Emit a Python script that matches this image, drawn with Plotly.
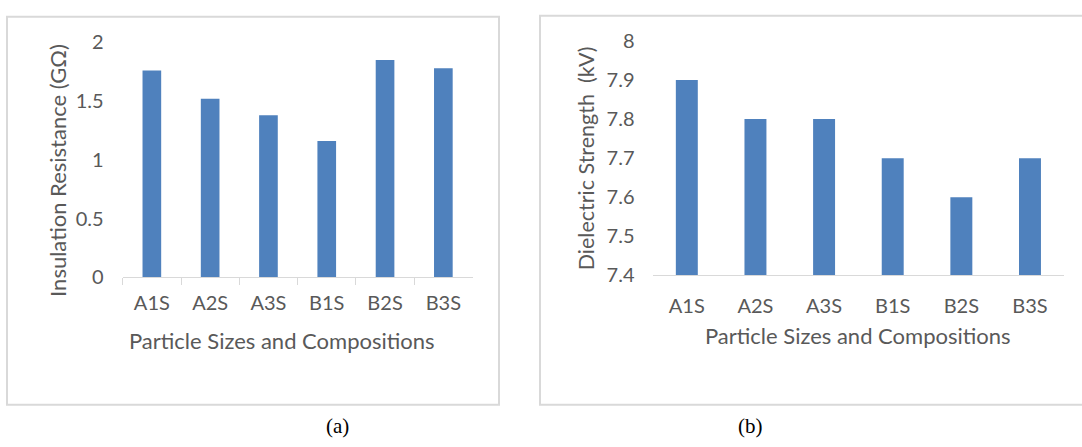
import plotly.graph_objects as go

# ---- data ----
categories = ["A1S", "A2S", "A3S", "B1S", "B2S", "B3S"]
insulation_resistance = [1.76, 1.52, 1.38, 1.16, 1.85, 1.78]   # GΩ
dielectric_strength = [7.9, 7.8, 7.8, 7.7, 7.6, 7.7]            # kV
left_ticks = [0, 0.5, 1, 1.5, 2]
left_ticktext = ["0", "0.5", "1", "1.5", "2"]
right_ticks = [7.4, 7.5, 7.6, 7.7, 7.8, 7.9, 8.0]
right_ticktext = ["7.4", "7.5", "7.6", "7.7", "7.8", "7.9", "8"]

W, H = 1082, 447
BAR = "#4f81bd"
GRAY = "#595959"
LINE = "#d9d9d9"
FONT = "Lato"

def px(x):
    return x / W

def py(y):
    return (H - y) / H

fig = go.Figure()
fig.add_trace(go.Bar(x=categories, y=insulation_resistance, marker_color=BAR,
                     marker_line_width=0, xaxis="x", yaxis="y", showlegend=False))
fig.add_trace(go.Bar(x=categories, y=dielectric_strength, marker_color=BAR,
                     marker_line_width=0, xaxis="x2", yaxis="y2", showlegend=False))

tickfont = dict(family=FONT, size=20, color=GRAY)
titlefont = dict(family=FONT, size=22, color=GRAY)

fig.update_layout(
    width=W, height=H,
    margin=dict(l=0, r=0, t=0, b=0),
    paper_bgcolor="white", plot_bgcolor="white",
    bargap=0.68,
    xaxis=dict(domain=[px(122.7), px(472.5)], anchor="y", type="category",
               showline=True, linecolor=LINE, linewidth=1,
               ticks="outside", tickson="boundaries", ticklen=7, tickcolor=LINE,
               tickfont=tickfont, showgrid=False, zeroline=False, ticklabelstandoff=8),
    yaxis=dict(domain=[py(279.3), py(31)], anchor="x", range=[0, 2],
               tickvals=left_ticks, ticktext=left_ticktext, tickfont=tickfont,
               showgrid=False, zeroline=False, showline=False, ticks="",
               ticklabelstandoff=18),
    xaxis2=dict(domain=[px(652.5), px(1064.3)], anchor="y2", type="category",
                showline=True, linecolor=LINE, linewidth=1, ticks="",
                tickfont=tickfont, showgrid=False, zeroline=False, ticklabelstandoff=13),
    yaxis2=dict(domain=[py(277.3), py(29.5)], anchor="x2", range=[7.4, 8.0],
                tickvals=right_ticks, ticktext=right_ticktext, tickfont=tickfont,
                showgrid=False, zeroline=False, showline=False, ticks="",
                ticklabelstandoff=17),
    shapes=[
        dict(type="rect", xref="paper", yref="paper",
             x0=px(7), x1=px(499), y0=py(414), y1=py(4),
             line=dict(color=LINE, width=2), fillcolor="rgba(0,0,0,0)", layer="below"),
        dict(type="rect", xref="paper", yref="paper",
             x0=px(540), x1=px(1090), y0=py(414), y1=py(3),
             line=dict(color=LINE, width=2), fillcolor="rgba(0,0,0,0)", layer="below"),
    ],
    annotations=[
        dict(text="Particle Sizes and Compositions", xref="paper", yref="paper",
             x=px(282), y=py(346), showarrow=False, xanchor="center", yanchor="middle",
             font=titlefont),
        dict(text="Insulation Resistance (GΩ)", xref="paper", yref="paper",
             x=px(56.8), y=py(166), showarrow=False, textangle=-90,
             xanchor="center", yanchor="middle", font=titlefont),
        dict(text="Particle Sizes and Compositions", xref="paper", yref="paper",
             x=px(858), y=py(341), showarrow=False, xanchor="center", yanchor="middle",
             font=titlefont),
        dict(text="Dielectric Strength  (kV)", xref="paper", yref="paper",
             x=px(585.6), y=py(154), showarrow=False, textangle=-90,
             xanchor="center", yanchor="middle",
             font=dict(family=FONT, size=21.5, color=GRAY)),
        dict(text="(a)", xref="paper", yref="paper",
             x=px(337), y=py(436), showarrow=False, xanchor="center", yanchor="middle",
             font=dict(family="Liberation Serif", size=21, color="black")),
        dict(text="(b)", xref="paper", yref="paper",
             x=px(750), y=py(436), showarrow=False, xanchor="center", yanchor="middle",
             font=dict(family="Liberation Serif", size=21, color="black")),
    ],
)

fig.write_html("out.html", config={"displayModeBar": False},
               post_script="document.body.style.margin='0';document.body.style.overflow='hidden';")
